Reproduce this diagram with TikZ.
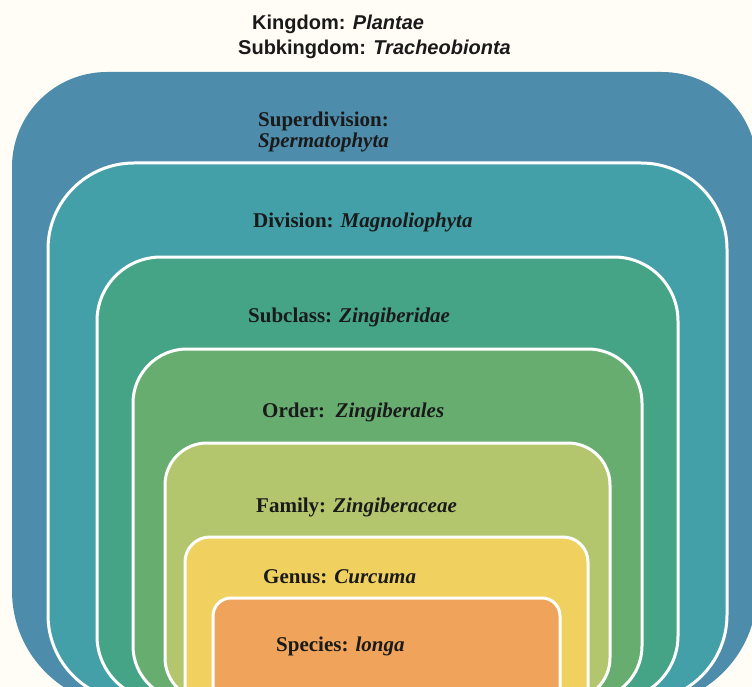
\documentclass[tikz,border=0pt]{standalone}
\usepackage{fontspec}
\setmainfont{Liberation Serif}
\newfontfamily\topfont{Liberation Sans}
\definecolor{bgc}{HTML}{FFFDF6}
\definecolor{cA}{HTML}{4E8CAB}
\definecolor{cB}{HTML}{44A0A8}
\definecolor{cC}{HTML}{45A386}
\definecolor{cD}{HTML}{68AD70}
\definecolor{cE}{HTML}{B3C66E}
\definecolor{cF}{HTML}{F0D160}
\definecolor{cG}{HTML}{F0A35A}
\definecolor{txt}{HTML}{1A1A1A}
\begin{document}
\begin{tikzpicture}[x=1pt,y=-1pt,
  levelbox/.style={draw=white,line width=3pt},
  lbl/.style={anchor=base west,inner sep=0pt,text=txt,font=\fontsize{21}{25}\selectfont\bfseries},
  toplbl/.style={anchor=base west,inner sep=0pt,text=txt,font=\topfont\fontsize{20}{24}\selectfont\bfseries}]
\useasboundingbox (0,0) rectangle (752,687);
\fill[bgc] (0,0) rectangle (752,687);
\begin{scope}
\clip (0,0) rectangle (752,687);
\fill[cA] (12,400) [rounded corners=115] -- (12,706) -- (757,706) -- (757,400) [rounded corners=95] -- (757,72) -- (12,72) -- cycle;
\filldraw[levelbox,fill=cB,rounded corners=86] (48,163) rectangle (727,701);
\filldraw[levelbox,fill=cC,rounded corners=64] (97,257) rectangle (678,700);
\filldraw[levelbox,fill=cD,rounded corners=54] (133,349) rectangle (642,700);
\filldraw[levelbox,fill=cE,rounded corners=42] (165,443) rectangle (610,700);
\filldraw[levelbox,fill=cF,rounded corners=25] (185,537) rectangle (588,720);
\filldraw[levelbox,fill=cG,rounded corners=18] (213,598) rectangle (560,720);
\end{scope}
\node[toplbl] (kingdom) at (252,30) {Kingdom: \itshape Plantae};
\node[toplbl] (subkingdom) at (238,55) {Subkingdom: \itshape Tracheobionta};
\node[lbl] (superdiv) at (258,127) {Superdivision:};
\node[lbl] (sperm) at (258,148) {\itshape Spermatophyta};
\node[lbl] (division) at (253,228) {Division: \itshape Magnoliophyta};
\node[lbl] (subclass) at (248,322) {Subclass: \itshape Zingiberidae};
\node[lbl] (order) at (262,417) {Order:\ \ \itshape Zingiberales};
\node[lbl] (family) at (256,512) {Family: \itshape Zingiberaceae};
\node[lbl] (genus) at (263,583) {Genus: \itshape Curcuma};
\node[lbl] (species) at (276,651) {Species: \itshape longa};
\end{tikzpicture}
\end{document}
